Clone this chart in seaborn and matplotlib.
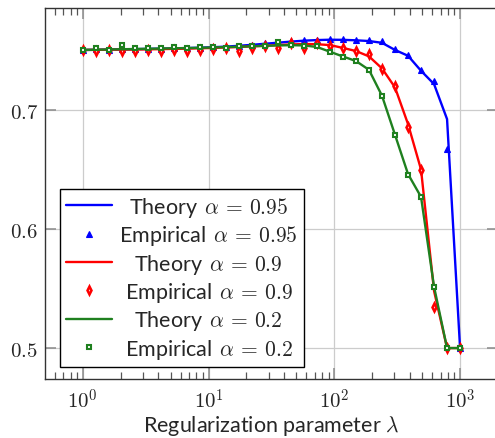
# Theory vs empirical curves against the regularization parameter (log x)

import pandas as pd
import matplotlib
matplotlib.use('Agg')
import matplotlib.pyplot as plt
import seaborn as sns

# lambda grid (30 log-spaced values from 1 to 1000)
lam = [1.000, 1.269, 1.610, 2.043, 2.593, 3.290, 4.175, 5.298, 6.723, 8.532,
       10.83, 13.74, 17.43, 22.12, 28.07, 35.62, 45.20, 57.36, 72.79, 92.37,
       117.2, 148.7, 188.7, 239.5, 303.9, 385.7, 489.4, 621.1, 788.0, 1000.0]

theory_95 = [0.7505, 0.7506, 0.7508, 0.7510, 0.7512, 0.7514, 0.7516, 0.7518, 0.7521, 0.7524,
             0.7528, 0.7533, 0.7540, 0.7548, 0.7557, 0.7566, 0.7575, 0.7583, 0.7588, 0.7591,
             0.7590, 0.7586, 0.7580, 0.7565, 0.7505, 0.7456, 0.7330, 0.7218, 0.6924, 0.5000]
emp_95 = [0.7503, 0.7510, 0.7506, 0.7512, 0.7514, 0.7512, 0.7516, 0.7520, 0.7522, 0.7523,
          0.7530, 0.7532, 0.7541, 0.7550, 0.7562, 0.7568, 0.7580, 0.7588, 0.7592, 0.7594,
          0.7600, 0.7590, 0.7588, 0.7580, 0.7510, 0.7460, 0.7335, 0.7240, 0.6670, 0.5000]

theory_90 = [0.7505, 0.7506, 0.7507, 0.7508, 0.7509, 0.7510, 0.7512, 0.7514, 0.7516, 0.7519,
             0.7522, 0.7526, 0.7530, 0.7535, 0.7540, 0.7546, 0.7551, 0.7555, 0.7553, 0.7546,
             0.7522, 0.7496, 0.7451, 0.7350, 0.7190, 0.6882, 0.6500, 0.5480, 0.5000, 0.5000]
emp_90 = [0.7503, 0.7500, 0.7505, 0.7495, 0.7497, 0.7505, 0.7498, 0.7505, 0.7495, 0.7505,
          0.7515, 0.7520, 0.7500, 0.7525, 0.7535, 0.7520, 0.7560, 0.7525, 0.7565, 0.7540,
          0.7518, 0.7493, 0.7468, 0.7345, 0.7199, 0.6855, 0.6496, 0.5347, 0.5000, 0.5000]

theory_20 = [0.7505, 0.7507, 0.7509, 0.7511, 0.7513, 0.7515, 0.7517, 0.7519, 0.7521, 0.7523,
             0.7526, 0.7529, 0.7532, 0.7536, 0.7540, 0.7543, 0.7545, 0.7543, 0.7530, 0.7490,
             0.7450, 0.7412, 0.7338, 0.7120, 0.6792, 0.6462, 0.6270, 0.5515, 0.5000, 0.5000]
emp_20 = [0.7507, 0.7520, 0.7507, 0.7547, 0.7521, 0.7518, 0.7518, 0.7532, 0.7524, 0.7527,
          0.7532, 0.7521, 0.7535, 0.7535, 0.7535, 0.7569, 0.7550, 0.7535, 0.7540, 0.7485,
          0.7448, 0.7415, 0.7336, 0.7115, 0.6790, 0.6457, 0.6270, 0.5510, 0.5000, 0.5000]

df = pd.DataFrame({'lam': lam,
                   'theory_95': theory_95, 'emp_95': emp_95,
                   'theory_90': theory_90, 'emp_90': emp_90,
                   'theory_20': theory_20, 'emp_20': emp_20})

sns.set_style('ticks')
plt.rcParams['font.family'] = ['Lato', 'DejaVu Sans']
plt.rcParams['mathtext.fontset'] = 'cm'

BLUE = '#0000ff'
RED = '#ff0000'
GREEN = '#1f801f'
FS = 15.5

fig = plt.figure(figsize=(4.95, 4.39), dpi=100)
ax = fig.add_axes([45 / 495, 59 / 439, 452.8 / 495, 370.7 / 439])

line_kw = dict(estimator=None, sort=False, linewidth=1.7, ax=ax)
sns.lineplot(data=df, x='lam', y='theory_95', color=BLUE,
             label=r'Theory $\,\alpha\,=\,0.95$', **line_kw)
sns.lineplot(data=df, x='lam', y='emp_95', color=BLUE, linestyle='', marker='^', markersize=5,
             markeredgecolor=BLUE, markeredgewidth=0.8,
             label=r'Empirical $\,\alpha\,=\,0.95$', **line_kw)
sns.lineplot(data=df, x='lam', y='theory_90', color=RED,
             label=r'Theory $\,\alpha\,=\,0.9$', **line_kw)
sns.lineplot(data=df, x='lam', y='emp_90', color=RED, linestyle='', marker='d', markersize=3.9,
             markerfacecolor='#ffd0d0', markeredgecolor=RED, markeredgewidth=1.8,
             label=r'Empirical $\,\alpha\,=\,0.9$', **line_kw)
sns.lineplot(data=df, x='lam', y='theory_20', color=GREEN,
             label=r'Theory $\,\alpha\,=\,0.2$', **line_kw)
sns.lineplot(data=df, x='lam', y='emp_20', color=GREEN, linestyle='', marker='s', markersize=3.3,
             markerfacecolor='white', markeredgecolor=GREEN, markeredgewidth=1.5,
             label=r'Empirical $\,\alpha\,=\,0.2$', **line_kw)

ax.set_xscale('log')
ax.set_xlim(10 ** -0.3, 10 ** 3.3)
ax.set_ylim(0.474, 0.7855)
ax.set_xticks([1, 10, 100, 1000])
ax.set_xticklabels([r'$10^0$', r'$10^1$', r'$10^2$', r'$10^3$'])
ax.set_yticks([0.5, 0.6, 0.7])
ax.set_yticklabels([r'$0.5$', r'$0.6$', r'$0.7$'])
ax.tick_params(which='both', direction='in', top=True, right=True, labelsize=15)
ax.tick_params(which='major', length=8, width=1.1, color='#8a8a8a')
ax.tick_params(axis='x', which='major', pad=6)
ax.tick_params(axis='y', which='major', pad=5)
ax.tick_params(which='minor', length=4.8, width=0.9, color='#555555')
ax.grid(True, which='major', color='#cccccc', linewidth=0.9)
ax.set_axisbelow(True)
for s in ax.spines.values():
    s.set_color('#333333')
    s.set_linewidth(1.0)

ax.set_ylabel('')
ax.set_xlabel(r'Regularization parameter $\lambda$', fontsize=FS, va='top')
ax.xaxis.set_label_coords(0.5, -0.092)

leg = ax.legend(loc='lower left', bbox_to_anchor=(0.0331, 0.0324), borderaxespad=0,
                fontsize=FS, frameon=True, fancybox=False, framealpha=1, edgecolor='black',
                numpoints=1, handlelength=2.1, handletextpad=0.36, labelspacing=0.2,
                borderpad=0.3)
leg.get_frame().set_linewidth(1.0)

# center the legend texts in their column like pgfplots does
fig.canvas.draw()
renderer = fig.canvas.get_renderer()
texts = leg.get_texts()
widths = [t.get_window_extent(renderer).width for t in texts]
for t, w in zip(texts, widths):
    t.set_x((max(widths) - w) / 2)

plt.savefig('out.png', dpi=100)
